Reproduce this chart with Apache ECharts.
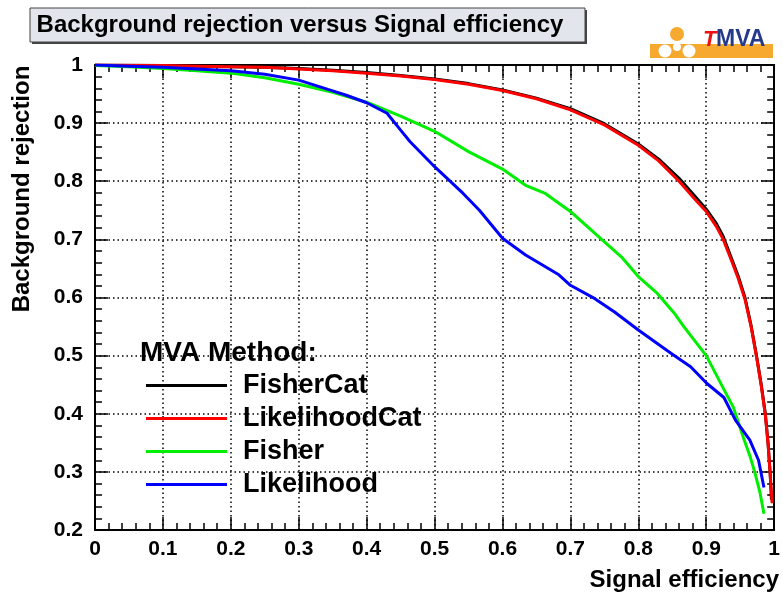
<!DOCTYPE html>
<html>
<head>
<meta charset="utf-8">
<script src="https://cdn.jsdelivr.net/npm/echarts@6/dist/echarts.min.js"></script>
<style>
html,body{margin:0;padding:0;background:#fff;}
#chart{width:783px;height:595px;}
</style>
</head>
<body>
<div id="chart"></div>
<script>
// ---- data ----
var seriesNames = ['FisherCat', 'LikelihoodCat', 'Fisher', 'Likelihood'];
var xTicks = [0, 0.1, 0.2, 0.3, 0.4, 0.5, 0.6, 0.7, 0.8, 0.9, 1];
var yTicks = [0.2, 0.3, 0.4, 0.5, 0.6, 0.7, 0.8, 0.9, 1];

var fisherCatEff = [0, 0.05, 0.1, 0.15, 0.2, 0.25, 0.3, 0.35, 0.4, 0.45, 0.5, 0.55, 0.6, 0.65, 0.7, 0.75, 0.8, 0.83, 0.86, 0.885, 0.9, 0.915, 0.925, 0.937, 0.947, 0.957, 0.966, 0.974, 0.981, 0.987, 0.991, 0.994, 0.996];
var fisherCatRej = [1.0, 0.9995, 0.999, 0.998, 0.997, 0.996, 0.994, 0.991, 0.987, 0.982, 0.976, 0.968, 0.957, 0.943, 0.925, 0.899, 0.864, 0.838, 0.805, 0.772, 0.752, 0.727, 0.705, 0.668, 0.637, 0.600, 0.552, 0.500, 0.450, 0.400, 0.350, 0.300, 0.252];

var likelihoodCatEff = [0, 0.05, 0.1, 0.15, 0.2, 0.25, 0.3, 0.35, 0.4, 0.45, 0.5, 0.55, 0.6, 0.65, 0.7, 0.75, 0.8, 0.83, 0.86, 0.885, 0.9, 0.915, 0.925, 0.937, 0.947, 0.957, 0.966, 0.974, 0.981, 0.987, 0.991, 0.994, 0.997];
var likelihoodCatRej = [1.0, 0.9995, 0.999, 0.998, 0.997, 0.996, 0.993, 0.990, 0.986, 0.981, 0.975, 0.967, 0.956, 0.942, 0.923, 0.897, 0.862, 0.835, 0.800, 0.767, 0.748, 0.722, 0.700, 0.664, 0.633, 0.597, 0.550, 0.498, 0.448, 0.398, 0.348, 0.298, 0.246];

var fisherEff = [0, 0.05, 0.1, 0.15, 0.2, 0.25, 0.3, 0.35, 0.4, 0.45, 0.5, 0.55, 0.6, 0.634, 0.663, 0.7, 0.746, 0.775, 0.8, 0.828, 0.853, 0.867, 0.9, 0.926, 0.94, 0.955, 0.965, 0.972, 0.979, 0.985];
var fisherRej = [0.999, 0.997, 0.994, 0.990, 0.986, 0.978, 0.967, 0.953, 0.936, 0.912, 0.886, 0.851, 0.821, 0.793, 0.779, 0.748, 0.700, 0.670, 0.636, 0.607, 0.573, 0.550, 0.500, 0.442, 0.411, 0.358, 0.325, 0.297, 0.265, 0.228];

var likelihoodEff = [0, 0.05, 0.1, 0.15, 0.2, 0.25, 0.3, 0.343, 0.37, 0.4, 0.43, 0.45, 0.464, 0.5, 0.542, 0.566, 0.6, 0.634, 0.683, 0.7, 0.736, 0.765, 0.8, 0.848, 0.877, 0.901, 0.926, 0.943, 0.964, 0.977, 0.985];
var likelihoodRej = [1.0, 0.998, 0.996, 0.993, 0.990, 0.984, 0.974, 0.958, 0.948, 0.935, 0.917, 0.888, 0.868, 0.825, 0.779, 0.750, 0.702, 0.673, 0.639, 0.621, 0.598, 0.575, 0.544, 0.504, 0.481, 0.452, 0.428, 0.389, 0.355, 0.320, 0.273];

var seriesColors = ['#000000', '#ff0000', '#00ee00', '#0000ff'];
// ------------------------------------------------

function pairs(xs, ys) {
  var out = [];
  for (var i = 0; i < xs.length; i++) out.push([xs[i], ys[i]]);
  return out;
}
var allData = [
  pairs(fisherCatEff, fisherCatRej),
  pairs(likelihoodCatEff, likelihoodCatRej),
  pairs(fisherEff, fisherRej),
  pairs(likelihoodEff, likelihoodRej)
];

var FONT = 'Liberation Sans';

function axisCommon(show) {
  return {
    type: 'value',
    axisLine: { show: true, onZero: false, lineStyle: { color: '#000', width: 2 } },
    axisTick: { show: true, inside: true, length: 13, lineStyle: { color: '#000', width: 1.5 } },
    minorTick: { show: true, splitNumber: 5, length: 7, lineStyle: { color: '#000', width: 1.5 } },
    splitLine: { show: show, lineStyle: { color: '#000', width: 1.5, type: [1.5, 3] } },
    minorSplitLine: { show: false }
  };
}

var xBottom = Object.assign(axisCommon(true), {
  min: xTicks[0], max: xTicks[xTicks.length - 1], interval: 0.1, position: 'bottom',
  axisLabel: { show: true, color: '#000', fontSize: 21, fontWeight: 'bold', fontFamily: FONT, margin: 9 }
});
var xTop = Object.assign(axisCommon(false), {
  min: xTicks[0], max: xTicks[xTicks.length - 1], interval: 0.1, position: 'top',
  axisLabel: { show: false }
});
var yLeft = Object.assign(axisCommon(true), {
  min: yTicks[0], max: yTicks[yTicks.length - 1], interval: 0.1, position: 'left',
  axisLabel: { show: true, color: '#000', fontSize: 21, fontWeight: 'bold', fontFamily: FONT, margin: 12 }
});
var yRight = Object.assign(axisCommon(false), {
  min: yTicks[0], max: yTicks[yTicks.length - 1], interval: 0.1, position: 'right',
  axisLabel: { show: false }
});

var series = seriesNames.map(function (name, i) {
  return {
    name: name,
    type: 'line',
    xAxisIndex: 0,
    yAxisIndex: 0,
    data: allData[i],
    showSymbol: false,
    symbol: 'none',
    smooth: false,
    z: 2 + i,
    lineStyle: { color: seriesColors[i], width: 3 },
    itemStyle: { color: seriesColors[i] }
  };
});

function txt(x, y, text, size, align, extra) {
  var st = { text: text, fill: '#000', fontSize: size, fontWeight: 'bold', fontFamily: FONT, textAlign: align, textVerticalAlign: 'middle' };
  if (extra) for (var k in extra) st[k] = extra[k];
  return { type: 'text', x: x, y: y, z: 12, style: st };
}

var chart = echarts.init(document.getElementById('chart'), null, { renderer: 'canvas' });
chart.setOption({
  animation: false,
  backgroundColor: '#fff',
  grid: { left: 95, right: 2, top: 65, bottom: 65, containLabel: false },
  xAxis: [xBottom, xTop],
  yAxis: [yLeft, yRight],
  legend: {
    data: seriesNames,
    orient: 'vertical',
    left: 146,
    top: 372,
    padding: 0,
    icon: 'rect',
    itemWidth: 81,
    itemHeight: 3,
    itemGap: 6,
    textStyle: { color: '#000', fontSize: 27, fontWeight: 'bold', fontFamily: FONT, lineHeight: 27, padding: [0, 0, 0, 11] }
  },
  series: series,
  graphic: [
    // title box with shadow
    { type: 'rect', shape: { x: 32, y: 10, width: 555, height: 34 }, style: { fill: '#444' }, z: 10 },
    { type: 'rect', shape: { x: 30, y: 8, width: 555, height: 34 }, style: { fill: '#e2e5ec', stroke: '#444', lineWidth: 1 }, z: 11 },
    txt(300, 25, 'Background rejection versus Signal efficiency', 24, 'center'),
    // y axis title
    { type: 'text', x: 22, y: 189, rotation: Math.PI / 2, z: 12,
      style: { text: 'Background rejection', fill: '#000', fontSize: 24, fontWeight: 'bold', fontFamily: FONT, textAlign: 'center', textVerticalAlign: 'middle' } },
    // x axis title
    txt(779, 580, 'Signal efficiency', 24, 'right'),
    // legend header
    txt(140, 353, 'MVA Method:', 28, 'left'),
    // TMVA logo
    { type: 'rect', shape: { x: 650, y: 44, width: 123, height: 14 }, style: { fill: '#f7a82e' }, z: 10 },
    { type: 'circle', shape: { cx: 677, cy: 34, r: 7 }, style: { fill: '#f7a82e' }, z: 11 },
    { type: 'circle', shape: { cx: 665, cy: 51, r: 6.5 }, style: { fill: '#ffffff' }, z: 11 },
    { type: 'circle', shape: { cx: 689, cy: 51, r: 6.5 }, style: { fill: '#ffffff' }, z: 11 },
    { type: 'circle', shape: { cx: 677, cy: 47, r: 4 }, style: { fill: '#ffffff' }, z: 11 },
    txt(703, 40, 'T', 22, 'left', { fill: '#ee1111', fontStyle: 'italic' }),
    txt(716, 40, 'MVA', 23, 'left', { fill: '#263a8c' })
  ]
});
</script>
</body>
</html>
